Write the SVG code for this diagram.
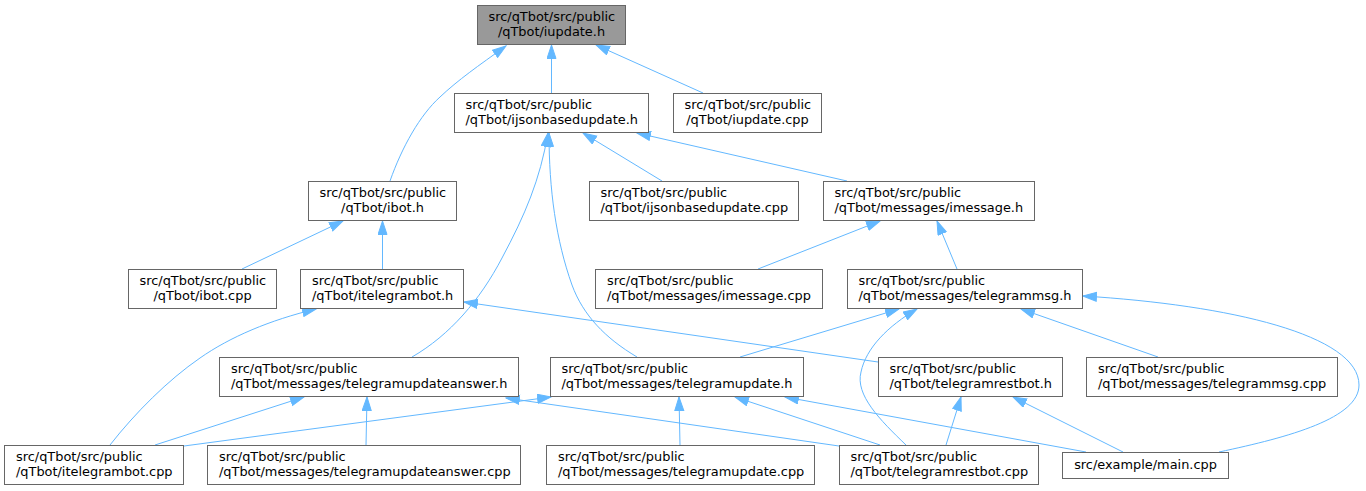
<svg xmlns="http://www.w3.org/2000/svg" width="1366" height="491" viewBox="0 0 1366 491">
<style>
.n rect{fill:#ffffff;stroke:#666666;stroke-width:1}
.root rect{fill:#999999}
.n text{font-family:"DejaVu Sans","Liberation Sans",sans-serif;font-size:12.9px;fill:#000000}
.m{text-anchor:middle}
#edges path{fill:none;stroke:#63b8ff;stroke-width:1;marker-end:url(#ah)}
</style>
<defs>
<marker id="ah" markerUnits="userSpaceOnUse" markerWidth="15" markerHeight="11" refX="14" refY="5" orient="auto">
<path d="M0.5,0.5 L14,5 L0.5,9.5 z" fill="#63b8ff" stroke="#63b8ff" stroke-width="1"/>
</marker>
</defs>
<rect width="1366" height="491" fill="#ffffff"/>
<g id="edges">
<path d="M390,181 C402,147 420,115 440,97 C458,80 478,66 506,46"/>
<path d="M551.5,93 L551.5,45"/>
<path d="M703,93 L596,45"/>
<path d="M662,181 L583,133"/>
<path d="M847,181 L637,133"/>
<path d="M412,357 C450,335 480,300 502,258 C525,215 540,180 548,133"/>
<path d="M637,357 C605,338 583,315 572,285 C556,240 549,190 549,133"/>
<path d="M758,269 L880,221"/>
<path d="M957,269 L937,221"/>
<path d="M242,269 L343,221"/>
<path d="M382.5,269 L382.5,221"/>
<path d="M110,445 C135,413 168,380 200,358 C230,337 270,320 316,309"/>
<path d="M878,362 L464,302"/>
<path d="M740,357 L899,309"/>
<path d="M906,445 C880,420 855,395 861,372 C866,348 888,326 917,309"/>
<path d="M1158,357 L1021,309"/>
<path d="M1219,452 C1290,437 1359,418 1359,385 C1359,335 1230,305 1083,296"/>
<path d="M155,445 L304,397"/>
<path d="M366,445 L367,397"/>
<path d="M839,446 L506,398"/>
<path d="M184,446 L551,397"/>
<path d="M680,445 L679,397"/>
<path d="M880,445 L735,397"/>
<path d="M1086,452 L785,397"/>
<path d="M946,445 L961,397"/>
<path d="M1123,452 L1013,397"/>
</g>
<g id="node1" class="n root"><rect x="477.5" y="5.5" width="148" height="39"/><text x="488.5" y="21.3">src/qTbot/src/public</text><text class="m" x="551.5" y="35.6">/qTbot/iupdate.h</text></g>
<g id="node2" class="n"><rect x="454.5" y="93.5" width="194" height="39"/><text x="465.5" y="109.3">src/qTbot/src/public</text><text x="465.5" y="123.6">/qTbot/ijsonbasedupdate.h</text></g>
<g id="node3" class="n"><rect x="673.5" y="93.5" width="148" height="39"/><text x="684.5" y="109.3">src/qTbot/src/public</text><text class="m" x="747.5" y="123.6">/qTbot/iupdate.cpp</text></g>
<g id="node4" class="n"><rect x="308.5" y="181.5" width="148" height="39"/><text x="319.5" y="197.3">src/qTbot/src/public</text><text class="m" x="382.5" y="211.6">/qTbot/ibot.h</text></g>
<g id="node5" class="n"><rect x="589.5" y="181.5" width="209" height="39"/><text x="600.5" y="197.3">src/qTbot/src/public</text><text x="600.5" y="211.6">/qTbot/ijsonbasedupdate.cpp</text></g>
<g id="node6" class="n"><rect x="823.5" y="181.5" width="211" height="39"/><text x="834.5" y="197.3">src/qTbot/src/public</text><text x="834.5" y="211.6">/qTbot/messages/imessage.h</text></g>
<g id="node7" class="n"><rect x="128.5" y="269.5" width="148" height="39"/><text x="139.5" y="285.3">src/qTbot/src/public</text><text class="m" x="202.5" y="299.6">/qTbot/ibot.cpp</text></g>
<g id="node8" class="n"><rect x="300.5" y="269.5" width="163" height="39"/><text x="312" y="285.3">src/qTbot/src/public</text><text x="312" y="299.6">/qTbot/itelegrambot.h</text></g>
<g id="node9" class="n"><rect x="595.5" y="269.5" width="227" height="39"/><text x="607" y="285.3">src/qTbot/src/public</text><text x="607" y="299.6">/qTbot/messages/imessage.cpp</text></g>
<g id="node10" class="n"><rect x="847.5" y="269.5" width="235" height="39"/><text x="858.5" y="285.3">src/qTbot/src/public</text><text x="858.5" y="299.6">/qTbot/messages/telegrammsg.h</text></g>
<g id="node11" class="n"><rect x="219.5" y="357.5" width="299" height="39"/><text x="231" y="373.3">src/qTbot/src/public</text><text x="231" y="387.6">/qTbot/messages/telegramupdateanswer.h</text></g>
<g id="node12" class="n"><rect x="550.5" y="357.5" width="253" height="39"/><text x="561.5" y="373.3">src/qTbot/src/public</text><text x="561.5" y="387.6">/qTbot/messages/telegramupdate.h</text></g>
<g id="node13" class="n"><rect x="878.5" y="357.5" width="184" height="39"/><text x="889.5" y="373.3">src/qTbot/src/public</text><text x="889.5" y="387.6">/qTbot/telegramrestbot.h</text></g>
<g id="node14" class="n"><rect x="1086.5" y="357.5" width="251" height="39"/><text x="1098" y="373.3">src/qTbot/src/public</text><text x="1098" y="387.6">/qTbot/messages/telegrammsg.cpp</text></g>
<g id="node15" class="n"><rect x="4.5" y="445.5" width="179" height="39"/><text x="16" y="461.3">src/qTbot/src/public</text><text x="16" y="475.6">/qTbot/itelegrambot.cpp</text></g>
<g id="node16" class="n"><rect x="207.5" y="445.5" width="313" height="39"/><text x="219" y="461.3">src/qTbot/src/public</text><text x="219" y="475.6">/qTbot/messages/telegramupdateanswer.cpp</text></g>
<g id="node17" class="n"><rect x="546.5" y="445.5" width="268" height="39"/><text x="558" y="461.3">src/qTbot/src/public</text><text x="558" y="475.6">/qTbot/messages/telegramupdate.cpp</text></g>
<g id="node18" class="n"><rect x="839.5" y="445.5" width="199" height="39"/><text x="850.5" y="461.3">src/qTbot/src/public</text><text x="850.5" y="475.6">/qTbot/telegramrestbot.cpp</text></g>
<g id="node19" class="n"><rect x="1062.5" y="452.5" width="166" height="26"/><text class="m" x="1145.5" y="469">src/example/main.cpp</text></g>
</svg>
